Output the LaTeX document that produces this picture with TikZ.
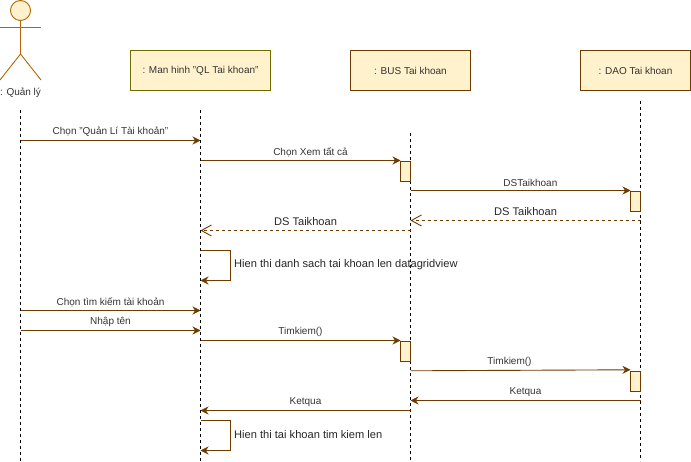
\documentclass[tikz,border=0pt]{standalone}
\usepackage{fontspec}
\setmainfont{Liberation Sans}
\usetikzlibrary{arrows.meta}

\definecolor{linebrown}{HTML}{6D3A00}
\definecolor{actorbrown}{HTML}{B46504}
\definecolor{boxfill}{HTML}{FFF2CC}
\definecolor{oliveline}{HTML}{6B6B00}

\tikzset{
  smalltext/.style={font=\fontsize{10}{12}\selectfont, text=black!80},
  bigtext/.style={font=\fontsize{11.1}{13}\selectfont, text=black!85},
  classbox/.style={draw=linebrown, fill=boxfill, line width=0.9pt, minimum height=40pt, smalltext},
  lifeline/.style={black, line width=0.9pt, dash pattern=on 3pt off 3pt},
  activebar/.style={draw=linebrown, fill=boxfill, line width=0.9pt, minimum width=10pt, minimum height=20pt, inner sep=0pt},
  msg/.style={linebrown, line width=0.9pt, -{Stealth[length=8pt, width=8pt]}},
  reply/.style={linebrown, line width=0.9pt, dash pattern=on 3pt off 3pt, -{Straight Barb[length=10pt, width=11pt]}},
  msglabel/.style={above, inner sep=0pt, yshift=3.2pt, smalltext},
  replylabel/.style={above, inner sep=0pt, yshift=4pt, bigtext},
  selflabel/.style={right, inner sep=0pt, bigtext},
}

\begin{document}
\begin{tikzpicture}[x=1pt, y=-1pt]
\useasboundingbox (0,0) rectangle (691,462);

% Lifelines
\coordinate (actortop) at (20.5,110);
\coordinate (actorend) at (20.5,461);
\coordinate (mantop) at (200.5,110);
\coordinate (manend) at (200.5,461);
\coordinate (bustop) at (410.5,133);
\coordinate (busend) at (410.5,461);
\coordinate (daotop) at (640.5,101);
\coordinate (daoend) at (640.5,461);
\draw[lifeline] (actortop) -- (actorend);
\draw[lifeline] (mantop) -- (manend);
\draw[lifeline] (bustop) -- (busend);
\draw[lifeline] (daotop) -- (daoend);

% Actor
\draw[actorbrown, fill=boxfill, line width=0.9pt] (20.5,10.5) circle (10);
\draw[actorbrown, line width=0.9pt] (0,27) -- (41,27);
\draw[actorbrown, line width=0.9pt] (20.5,20.5) -- (20.5,54) -- (0,80);
\draw[actorbrown, line width=0.9pt] (20.5,54) -- (41,80);
\node[smalltext, inner sep=0pt] (actor) at (20.5,92.5) {: Quản lý};

% Boxes
\node[classbox, draw=oliveline, minimum width=140pt] (man) at (200.5,70.5) {: Man hinh "QL Tai khoan"};
\node[classbox, minimum width=120pt] (bus) at (410.5,70.5) {: BUS Tai khoan};
\node[classbox, minimum width=110pt] (dao) at (635.5,70.5) {: DAO Tai khoan};

% Activation bars
\node[activebar] (busbarA) at (405.5,171.5) {};
\node[activebar] (daobarA) at (635.5,201.5) {};
\node[activebar] (busbarB) at (405.5,351.5) {};
\node[activebar] (daobarB) at (635.5,381) {};

% Message ends
\coordinate (actorA) at (20.5,140.5);
\coordinate (manA) at (200.5,140.5);
\coordinate (manB) at (200.5,160.5);
\coordinate (busB) at (400.5,160.5);
\coordinate (busC) at (410.5,190.5);
\coordinate (daoC) at (630.5,190.5);
\coordinate (daoD) at (640.5,220.5);
\coordinate (busD) at (410.5,220.5);
\coordinate (busE) at (410.5,230.5);
\coordinate (manE) at (200.5,230.5);
\coordinate (actorF) at (20.5,310.5);
\coordinate (manF) at (200.5,310.5);
\coordinate (actorG) at (20.5,330.5);
\coordinate (manG) at (200.5,330.5);
\coordinate (manH) at (200.5,340.5);
\coordinate (busH) at (400.5,340.5);
\coordinate (busI) at (410.5,370.8);
\coordinate (daoI) at (630.5,369.8);
\coordinate (daoJ) at (640.5,400.5);
\coordinate (busJ) at (410.5,400.5);
\coordinate (busK) at (410.5,410.5);
\coordinate (manK) at (200.5,410.5);

% Messages
\draw[msg] (actorA) -- node[msglabel] (chonql) {Chọn "Quản Lí Tài khoản"} (manA);
\draw[msg] (manB) -- node[msglabel, pos=0.55] (chonxem) {Chọn Xem tất cả} (busB);
\draw[msg] (busC) -- node[msglabel, pos=0.545] (dstk) {DSTaikhoan} (daoC);
\draw[reply] (daoD) -- node[replylabel] (dsbus) {DS Taikhoan} (busD);
\draw[reply] (busE) -- node[replylabel] (dsman) {DS Taikhoan} (manE);
\draw[msg] (actorF) -- node[msglabel] (chontim) {Chọn tìm kiếm tài khoản} (manF);
\draw[msg] (actorG) -- node[msglabel] (nhapten) {Nhập tên} (manG);
\draw[msg] (manH) -- node[msglabel] (timbus) {Timkiem()} (busH);
\draw[msg] (busI) -- node[msglabel, pos=0.45] (timdao) {Timkiem()} (daoI);
\draw[msg] (daoJ) -- node[msglabel] (kqbus) {Ketqua} (busJ);
\draw[msg] (busK) -- node[msglabel] (kqman) {Ketqua} (manK);

% Self calls
\coordinate (selfAa) at (200.5,250.5);
\coordinate (selfAb) at (230.5,250.5);
\coordinate (selfAc) at (230.5,280.5);
\coordinate (selfAd) at (200.5,280.5);
\draw[msg] (selfAa) -- (selfAb) -- (selfAc) -- (selfAd);
\node[selflabel] (hiends) at (234,265) {Hien thi danh sach tai khoan len datagridview};

\coordinate (selfBa) at (200.5,420.5);
\coordinate (selfBb) at (230.5,420.5);
\coordinate (selfBc) at (230.5,450.5);
\coordinate (selfBd) at (200.5,450.5);
\draw[msg] (selfBa) -- (selfBb) -- (selfBc) -- (selfBd);
\node[selflabel] (hientk) at (234,435) {Hien thi tai khoan tim kiem len};

\end{tikzpicture}
\end{document}
